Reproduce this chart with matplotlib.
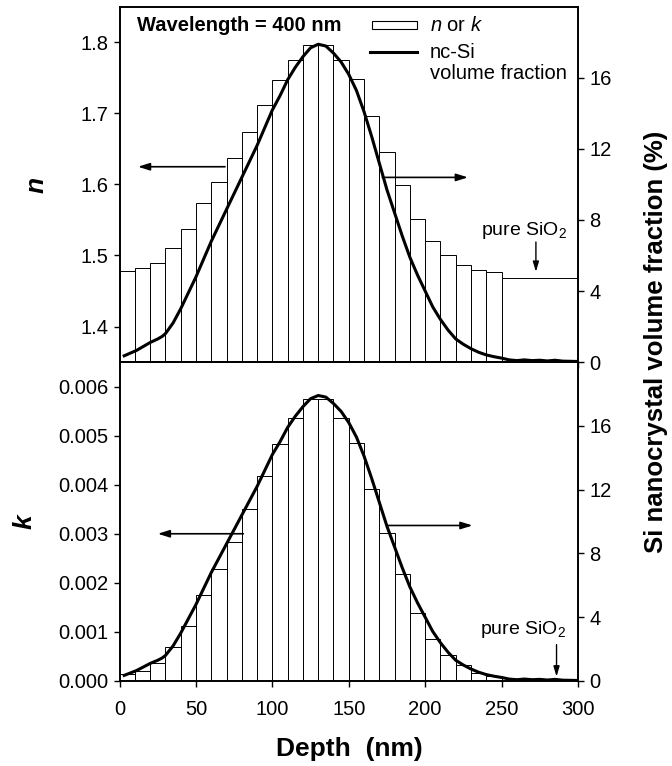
import numpy as np
import matplotlib
matplotlib.use('Agg')
import matplotlib.pyplot as plt
from matplotlib.patches import Rectangle
from matplotlib.ticker import FormatStrFormatter

plt.rcParams['font.family'] = ['Liberation Sans', 'DejaVu Sans']
plt.rcParams['mathtext.fontset'] = 'custom'
plt.rcParams['mathtext.rm'] = 'Liberation Sans'
plt.rcParams['mathtext.it'] = 'Liberation Sans:italic'
plt.rcParams['mathtext.bf'] = 'Liberation Sans:bold'

# layer bins (nm), 10 nm wide
bin_left = [0, 10, 20, 30, 40, 50, 60, 70, 80, 90, 100, 110, 120,
            130, 140, 150, 160, 170, 180, 190, 200, 210, 220, 230, 240]
bin_width = 10

# refractive index n per layer at 400 nm
n_vals = [1.478, 1.482, 1.490, 1.510, 1.537, 1.574, 1.604, 1.637, 1.674,
          1.712, 1.747, 1.775, 1.797, 1.797, 1.775, 1.748, 1.697, 1.646,
          1.599, 1.551, 1.520, 1.500, 1.487, 1.479, 1.477]
# pure SiO2 region 250-300 nm
sio2_start = 250
sio2_width = 50
n_sio2 = 1.469

# extinction coefficient k per layer
k_vals = [0.000143, 0.00021, 0.00036, 0.00069, 0.00113, 0.00176, 0.00228,
          0.00284, 0.00350, 0.00418, 0.00483, 0.00535, 0.00575, 0.00575,
          0.00535, 0.00484, 0.00392, 0.00302, 0.00218, 0.00138, 0.00085,
          0.00053, 0.00033, 0.00017, 0.00010]

# nc-Si volume fraction profile (%)
vf_depth = [3, 7, 11, 15, 20, 25, 28, 30, 35, 40, 45, 50, 55, 60, 65, 70,
            75, 80, 85, 90, 95, 100, 105, 110, 115, 120, 125, 130, 135, 140,
            145, 150, 155, 160, 165, 170, 175, 180, 185, 190, 195, 200, 205,
            210, 215, 220, 225, 230, 235, 240, 245, 250, 255, 260, 265, 270,
            275, 280, 285, 290, 295, 300]
vf_vals = [0.35, 0.5, 0.65, 0.85, 1.1, 1.3, 1.45, 1.6, 2.2, 3.0, 3.9, 4.8,
           5.8, 6.8, 7.7, 8.6, 9.5, 10.4, 11.3, 12.2, 13.2, 14.2, 15.0, 15.9,
           16.6, 17.2, 17.7, 17.9, 17.8, 17.4, 16.9, 16.2, 15.3, 14.1, 12.7,
           11.2, 9.7, 8.4, 7.1, 5.9, 4.9, 4.0, 3.1, 2.4, 1.8, 1.3, 1.0, 0.75,
           0.55, 0.4, 0.3, 0.22, 0.12, 0.08, 0.12, 0.08, 0.1, 0.06, 0.1, 0.05,
           0.04, 0.03]

fig = plt.figure(figsize=(6.72, 7.66), dpi=100)
ax1 = fig.add_axes([0.178, 0.5274, 0.682, 0.4635])
ax2 = fig.add_axes([0.178, 0.111, 0.682, 0.4164])

tick_kw = dict(direction='out', length=4.5, width=1.0, labelsize=14.5)

# ---- top panel: n ----
ax1.bar(bin_left, n_vals, width=bin_width, align='edge', bottom=0,
        color='white', edgecolor='black', linewidth=0.7, zorder=2)
ax1.bar([sio2_start], [n_sio2], width=sio2_width, align='edge',
        color='white', edgecolor='black', linewidth=0.7, zorder=2)
ax1.set_xlim(0, 300)
ax1.set_ylim(1.35, 1.85)
ax1.set_yticks([1.4, 1.5, 1.6, 1.7, 1.8])
ax1.set_xticks([0, 50, 100, 150, 200, 250, 300])
ax1.tick_params(axis='x', labelbottom=False, **tick_kw)
ax1.tick_params(axis='y', **tick_kw)
ax1t = ax1.twinx()
ax1t.plot(vf_depth, vf_vals, color='black', lw=2.2, zorder=3)
ax1t.set_ylim(0, 20)
ax1t.set_yticks([0, 4, 8, 12, 16])
ax1t.tick_params(axis='y', **tick_kw)

# ---- bottom panel: k ----
ax2.bar(bin_left, k_vals, width=bin_width, align='edge',
        color='white', edgecolor='black', linewidth=0.7, zorder=2)
ax2.set_xlim(0, 300)
ax2.set_ylim(0, 0.0065)
ax2.set_yticks([0, 0.001, 0.002, 0.003, 0.004, 0.005, 0.006])
ax2.yaxis.set_major_formatter(FormatStrFormatter('%.3f'))
ax2.set_xticks([0, 50, 100, 150, 200, 250, 300])
ax2.tick_params(axis='both', **tick_kw)
ax2.tick_params(axis='x', pad=9)
ax2t = ax2.twinx()
ax2t.plot(vf_depth, vf_vals, color='black', lw=2.2, zorder=3)
ax2t.set_ylim(0, 20)
ax2t.set_yticks([0, 4, 8, 12, 16])
ax2t.tick_params(axis='y', **tick_kw)

for a in (ax1, ax2, ax1t, ax2t):
    for s in a.spines.values():
        s.set_linewidth(1.2)

# arrows showing which axis applies
arr = dict(arrowstyle='-|>,head_length=0.7,head_width=0.22', color='black',
           lw=1.2, shrinkA=0, shrinkB=0)
ax1.annotate('', xy=(12, 1.625), xytext=(69, 1.625), arrowprops=arr)
ax1t.annotate('', xy=(228, 10.4), xytext=(172, 10.4), arrowprops=arr)
ax2.annotate('', xy=(25, 0.003), xytext=(81, 0.003), arrowprops=arr)
ax2t.annotate('', xy=(231, 9.75), xytext=(175, 9.75), arrowprops=arr)

# pure SiO2 labels
ax1.text(265, 1.5355, r'pure SiO$_2$', ha='center', va='center', fontsize=14)
ax1.annotate('', xy=(272.5, 1.477), xytext=(272.5, 1.519),
             arrowprops=dict(arrowstyle='-|>,head_length=0.6,head_width=0.18',
                             color='black', lw=1.0, shrinkA=0, shrinkB=0))
ax2.text(264, 0.00104, r'pure SiO$_2$', ha='center', va='center', fontsize=14)
ax2.annotate('', xy=(286, 0.00009), xytext=(286, 0.00074),
             arrowprops=dict(arrowstyle='-|>,head_length=0.6,head_width=0.18',
                             color='black', lw=1.0, shrinkA=0, shrinkB=0))

# header and legend in top panel
ax1.text(0.038, 0.949, 'Wavelength = 400 nm', transform=ax1.transAxes,
         fontsize=14.5, fontweight='bold', va='center', ha='left')
ax1.add_patch(Rectangle((0.5506, 0.938), 0.098, 0.0226, transform=ax1.transAxes,
                        facecolor='white', edgecolor='black', lw=0.8, zorder=5))
ax1.text(0.677, 0.949, r'$n$ or $k$', transform=ax1.transAxes,
         fontsize=14.5, va='center', ha='left')
ax1.plot([0.546, 0.6488], [0.874, 0.874], transform=ax1.transAxes,
         color='black', lw=2.2, zorder=5)
ax1.text(0.677, 0.842, 'nc-Si\nvolume fraction', transform=ax1.transAxes,
         fontsize=14.5, va='center', ha='left', linespacing=1.1)

# axis labels
fig.text(37 / 672, 1 - 185 / 766, 'n', fontsize=19, fontweight='bold',
         fontstyle='italic', rotation=90, ha='center', va='center')
fig.text(25 / 672, 1 - 522 / 766, 'k', fontsize=19, fontweight='bold',
         fontstyle='italic', rotation=90, ha='center', va='center')
fig.text(656 / 672, 1 - 342 / 766, 'Si nanocrystal volume fraction (%)',
         fontsize=18.5, fontweight='bold', rotation=90, ha='center', va='center')
fig.text(349 / 672, 1 - 749 / 766, 'Depth  (nm)', fontsize=19,
         fontweight='bold', ha='center', va='center')

fig.savefig('out.png', dpi=100)
